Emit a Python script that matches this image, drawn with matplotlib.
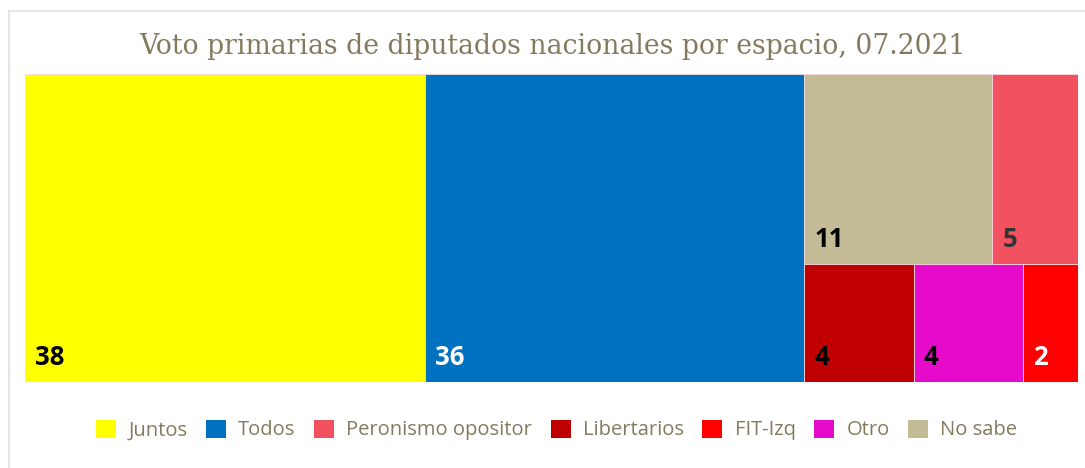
import matplotlib.pyplot as plt
from matplotlib.patches import Patch
from matplotlib.lines import Line2D

# Datos (orden de la leyenda)
names = ["Juntos", "Todos", "Peronismo opositor", "Libertarios", "FIT-Izq", "Otro", "No sabe"]
values = [38, 36, 5, 4, 2, 4, 11]
colors = ["#FFFF00", "#0070C0", "#F25260", "#C00000", "#FF0000", "#E60BCB", "#C4BC97"]
label_colors = ["black", "white", "#333333", "black", "white", "black", "black"]

# Estructura del treemap: columnas -> filas -> celdas
layout = [
    [["Juntos"]],
    [["Todos"]],
    [["No sabe", "Peronismo opositor"], ["Libertarios", "Otro", "FIT-Izq"]],
]

val = dict(zip(names, values))
col = dict(zip(names, colors))
lcol = dict(zip(names, label_colors))
title_color = "#857A5E"

fig = plt.figure(figsize=(10.85, 4.68), dpi=100)
ax = fig.add_axes([25 / 1085, 1 - 382 / 468, 1053 / 1085, 308 / 468])

total = sum(values)
x0 = 0
for column in layout:
    col_sum = sum(val[n] for row in column for n in row)
    col_w = col_sum
    y_top = 1.0
    for row in column:
        row_sum = sum(val[n] for n in row)
        row_h = row_sum / col_sum
        y0 = y_top - row_h
        x = x0
        for n in row:
            w = col_w * val[n] / row_sum
            ax.bar(x, row_h, width=w, bottom=y0, align="edge", color=col[n],
                   edgecolor="#F8D8E0", linewidth=0.6)
            ax.annotate(str(val[n]), xy=(x, y0), xytext=(10, 17), textcoords="offset pixels",
                        fontsize=18.5, fontweight="bold", color=lcol[n], family="Open Sans",
                        ha="left", va="baseline")
            x += w
        y_top = y0
    x0 += col_w

ax.set_xlim(0, total)
ax.set_ylim(0, 1)
ax.axis("off")

fig.text(0.509, 1 - 46 / 468, "Voto primarias de diputados nacionales por espacio, 07.2021",
         ha="center", va="center", fontsize=19.2, color=title_color, family="DejaVu Serif")

handles = [Patch(facecolor=c, edgecolor="none") for c in colors]
fig.legend(handles, names, loc="center", bbox_to_anchor=(0.513, 1 - 430 / 468), ncol=7,
           frameon=False, handlelength=1.0, handleheight=1.0,
           handletextpad=0.6, columnspacing=0.92, labelcolor=title_color,
           prop={"family": "Open Sans", "size": 14.5})

# Borde del gráfico
fig.add_artist(Line2D([9 / 1085, 9 / 1085], [0, 1 - 11 / 468], color="#E3E1D8", lw=1.2))
fig.add_artist(Line2D([9 / 1085, 1], [1 - 11 / 468, 1 - 11 / 468], color="#E3E1D8", lw=1.2))

fig.savefig("out.png", dpi=100)
